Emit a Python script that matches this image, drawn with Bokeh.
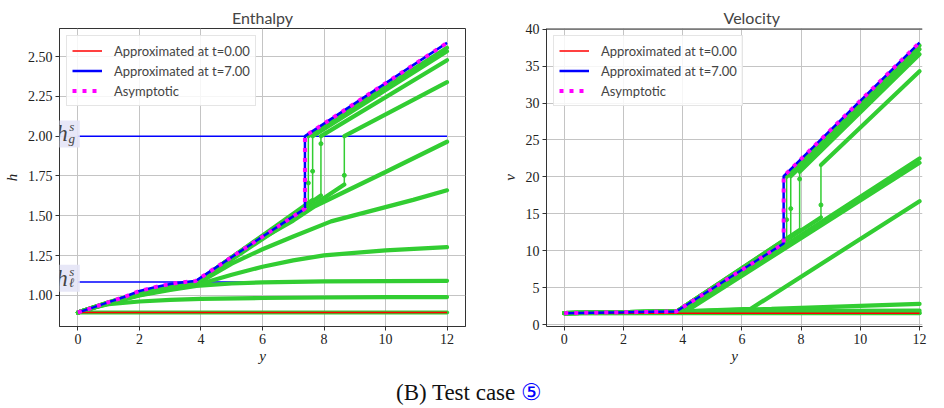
from bokeh.plotting import figure
from bokeh.models import Label, FixedTicker, PrintfTickFormatter, Span, Div, Range1d
from bokeh.layouts import column, row
from bokeh.embed import file_html
from bokeh.resources import INLINE

# ---------------- data ----------------
x_ticks = [0, 2, 4, 6, 8, 10, 12]
h_ticks = [1.00, 1.25, 1.50, 1.75, 2.00, 2.25, 2.50]
v_ticks = [0, 5, 10, 15, 20, 25, 30, 35, 40]

h_gs = 2.00
h_ls = 1.085
h_ref_x = [0, 12]

# Enthalpy
h_t0_x = [0, 12]
h_t0_y = [0.893, 0.893]
h_asym_x = [0, 0.5, 1, 1.5, 2, 2.5, 3, 3.5, 3.82, 7.38, 7.38, 12]
h_asym_y = [0.893, 0.925, 0.958, 0.99, 1.028, 1.052, 1.072, 1.085, 1.09, 1.545, 2.0, 2.586]
h_t7_x = [0, 0.5, 1, 1.5, 2, 2.5, 3, 3.5, 3.82, 7.38, 7.38, 12]
h_t7_y = [0.893, 0.925, 0.958, 0.99, 1.028, 1.052, 1.072, 1.085, 1.09, 1.545, 2.0, 2.586]

h_snap_x = [
    [0, 12],
    [0, 0.5, 1, 2, 3, 4, 6, 8, 10, 12],
    [0, 1, 2, 3, 3.85, 5, 6, 8, 10, 12],
    [0, 1, 2, 3, 3.85, 5, 6, 7, 8, 10, 12],
    [0, 1, 2, 3, 3.85, 5, 6, 7, 8.23, 10.9, 12],
    [0, 1, 2, 3, 3.85, 5, 6, 7, 7.7, 10, 12],
    [0, 1, 2, 3, 3.85, 8.66, 8.66, 8.66, 12],
    [0, 1, 2, 3, 3.85, 7.9, 7.9, 7.9, 12],
    [0, 1, 2, 3, 3.85, 7.63, 7.63, 7.63, 12],
    [0, 1, 2, 3, 3.85, 7.49, 7.49, 7.49, 12],
]
h_snap_y = [
    [0.893, 0.893],
    [0.893, 0.925, 0.945, 0.962, 0.972, 0.978, 0.984, 0.987, 0.989, 0.99],
    [0.893, 0.95, 1.0, 1.035, 1.06, 1.075, 1.082, 1.088, 1.09, 1.092],
    [0.893, 0.952, 1.003, 1.04, 1.065, 1.13, 1.18, 1.22, 1.252, 1.283, 1.303],
    [0.893, 0.953, 1.005, 1.043, 1.07, 1.2, 1.29, 1.37, 1.465, 1.60, 1.66],
    [0.893, 0.954, 1.007, 1.046, 1.075, 1.24, 1.36, 1.47, 1.56, 1.775, 1.965],
    [0.893, 0.955, 1.01, 1.05, 1.078, 1.696, 1.754, 2.0, 2.339],
    [0.893, 0.955, 1.012, 1.052, 1.08, 1.627, 1.953, 2.0, 2.477],
    [0.893, 0.956, 1.014, 1.055, 1.082, 1.60, 1.78, 2.0, 2.533],
    [0.893, 0.957, 1.016, 1.058, 1.085, 1.57, 1.706, 2.0, 2.555],
]

# Velocity
v_t0_x = [0, 12]
v_t0_y = [1.54, 1.54]
v_asym_x = [0, 1, 2, 3, 3.78, 7.41, 7.41, 12]
v_asym_y = [1.54, 1.6, 1.65, 1.72, 1.77, 10.98, 20.1, 38.2]
v_t7_x = [0, 1, 2, 3, 3.78, 7.41, 7.41, 12]
v_t7_y = [1.54, 1.6, 1.65, 1.72, 1.77, 10.98, 20.1, 38.2]

v_snap_x = [
    [0, 12],
    [0, 3.8, 12],
    [0, 3.8, 6, 12],
    [0, 3.8, 7, 12],
    [0, 3.8, 6.3, 12],
    [0, 3.8, 4.2, 12],
    [0, 3.8, 4.1, 12],
    [0, 3.8, 8.67, 8.67, 8.67, 12],
    [0, 3.8, 7.95, 7.95, 7.95, 12],
    [0, 3.8, 7.65, 7.65, 7.65, 12],
    [0, 3.8, 7.51, 7.51, 7.51, 12],
]
v_snap_y = [
    [1.54, 1.54],
    [1.54, 1.58, 1.62],
    [1.54, 1.7, 1.8, 1.9],
    [1.54, 1.74, 2.13, 2.8],
    [1.54, 1.76, 2.13, 16.7],
    [1.54, 1.77, 2.0, 21.9],
    [1.54, 1.77, 2.0, 22.5],
    [1.54, 1.77, 14.5, 16.2, 21.6, 34.3],
    [1.54, 1.77, 12.8, 19.7, 20.7, 36.6],
    [1.54, 1.77, 11.9, 15.7, 20.1, 37.3],
    [1.54, 1.77, 11.66, 14.2, 20.0, 37.8],
]

# ---------------- styling helpers ----------------
GREEN = "#32cd32"
SERIF = "Liberation Serif"
SANS = "Lato"


def split_curve(xs, ys):
    thick_x, thick_y, thin_x, thin_y, mx, my = [], [], [], [], [], []
    cx, cy = [xs[0]], [ys[0]]
    for i in range(1, len(xs)):
        if xs[i] == xs[i - 1]:
            if len(cx) > 1:
                thick_x.append(cx)
                thick_y.append(cy)
            thin_x.append([xs[i - 1], xs[i]])
            thin_y.append([ys[i - 1], ys[i]])
            cx, cy = [xs[i]], [ys[i]]
        else:
            cx.append(xs[i])
            cy.append(ys[i])
    if len(cx) > 1:
        thick_x.append(cx)
        thick_y.append(cy)
    for i in range(1, len(xs) - 1):
        if xs[i] == xs[i - 1] and xs[i] == xs[i + 1]:
            mx.append(xs[i])
            my.append(ys[i])
    return thick_x, thick_y, thin_x, thin_y, mx, my


def draw_snapshots(p, all_x, all_y):
    TX, TY, NX, NY, MX, MY = [], [], [], [], [], []
    for xs, ys in zip(all_x, all_y):
        a, b, c, d, e, f = split_curve(xs, ys)
        TX += a; TY += b; NX += c; NY += d; MX += e; MY += f
    p.multi_line(NX, NY, line_color=GREEN, line_width=1.5)
    p.multi_line(TX, TY, line_color=GREEN, line_width=4.2, line_cap="round")
    p.scatter(MX, MY, size=4, color=GREEN)


def style(p, yticks, ylabel, yfmt):
    p.title.text_font = SANS
    p.title.text_font_size = "16px"
    p.title.text_font_style = "normal"
    p.title.standoff = 3
    for ax in (p.xaxis[0], p.yaxis[0]):
        ax.major_label_text_font = SERIF
        ax.major_label_text_font_size = "14px"
        ax.major_label_text_color = "#222222"
        ax.axis_label_text_font = SERIF
        ax.axis_label_text_font_style = "italic"
        ax.axis_label_text_font_size = "15px"
        ax.axis_label_text_color = "#222222"
        ax.major_tick_in = 0
        ax.major_tick_out = 4
        ax.minor_tick_line_color = None
        ax.axis_line_color = "#333333"
        ax.major_tick_line_color = "#333333"
        ax.major_label_standoff = 3
    p.xaxis.axis_label_standoff = 1
    p.yaxis.axis_label_standoff = 5
    p.xaxis.ticker = FixedTicker(ticks=x_ticks)
    p.xaxis.axis_label = "y"
    p.yaxis.ticker = FixedTicker(ticks=yticks)
    p.yaxis.formatter = PrintfTickFormatter(format=yfmt)
    p.yaxis.axis_label = ylabel
    p.grid.grid_line_color = "#c4c4c4"
    p.grid.grid_line_width = 1
    p.xgrid.ticker = FixedTicker(ticks=x_ticks)
    p.ygrid.ticker = FixedTicker(ticks=yticks)
    p.background_fill_color = "white"
    p.border_fill_color = "white"


def add_legend(p):
    lg = p.legend[0]
    lg.location = "top_left"
    lg.label_text_font = SANS
    lg.label_text_font_size = "13px"
    lg.glyph_width = 30
    lg.glyph_height = 19
    lg.label_height = 19
    lg.spacing = 1
    lg.padding = 5
    lg.margin = 7
    lg.label_standoff = 12
    lg.border_line_color = "#cccccc"
    lg.background_fill_alpha = 0.85


DASH = "4 6"

# ---------------- Enthalpy ----------------
p1 = figure(width=470, height=372, x_range=Range1d(-0.6, 12.6), y_range=Range1d(0.805, 2.676),
            output_backend="svg", toolbar_location=None, title="Enthalpy",
            min_border_left=49, min_border_right=5, min_border_top=28, min_border_bottom=46)
p1.outline_line_color = "#333333"
style(p1, h_ticks, "h", "%.2f")
p1.title.align = "center"

p1.line(h_ref_x, [h_gs, h_gs], line_color="blue", line_width=1.5)
p1.line(h_ref_x, [h_ls, h_ls], line_color="blue", line_width=1.5)
draw_snapshots(p1, h_snap_x, h_snap_y)
p1.line(h_t0_x, h_t0_y, line_color="red", line_width=1.5, legend_label="Approximated at t=0.00")
p1.line(h_t7_x, h_t7_y, line_color="blue", line_width=2.5, legend_label="Approximated at t=7.00")
p1.line(h_asym_x, h_asym_y, line_color="magenta", line_width=4, line_dash=DASH,
        legend_label="Asymptotic")
add_legend(p1)

BOX = "#e4e4f6"
for yc, sub, ys, yb in ((2.014, "g", 2.058, 1.985), (1.108, "\u2113", 1.152, 1.082)):
    p1.add_layout(Label(x=-0.80, y=yc, text="h", text_font=SERIF, text_font_style="italic",
                        text_font_size="23px", text_baseline="middle", text_align="left",
                        background_fill_color=BOX, background_fill_alpha=0.9,
                        padding=dict(left=3, right=12, top=1, bottom=1)))
    p1.add_layout(Label(x=-0.20, y=ys, text="s", text_font=SERIF, text_font_style="italic",
                        text_font_size="13px", text_baseline="middle", text_align="center"))
    p1.add_layout(Label(x=-0.20, y=yb, text=sub, text_font=SERIF, text_font_style="italic",
                        text_font_size="13px", text_baseline="middle", text_align="center"))

# ---------------- Velocity ----------------
p2 = figure(width=458, height=372, x_range=Range1d(-0.6, 12.1), y_range=Range1d(-0.27, 40.1),
            output_backend="svg", toolbar_location=None, title="Velocity",
            min_border_left=76, min_border_right=6, min_border_top=28, min_border_bottom=46)
p2.outline_line_color = None
style(p2, v_ticks, "v", "%d")
p2.title.align = "left"
p2.title.offset = 177
p2.add_layout(Span(location=40.1, dimension="width", line_color="#333333", line_width=2))

draw_snapshots(p2, v_snap_x, v_snap_y)
p2.line(v_t0_x, v_t0_y, line_color="red", line_width=1.5, legend_label="Approximated at t=0.00")
p2.line(v_t7_x, v_t7_y, line_color="blue", line_width=2.5, legend_label="Approximated at t=7.00")
p2.line(v_asym_x, v_asym_y, line_color="magenta", line_width=4, line_dash=DASH,
        legend_label="Asymptotic")
add_legend(p2)

caption = Div(text='<div style="font-family: \'Liberation Serif\', serif; font-size: 23px; '
                   'color: #111; text-align: center; width: 916px; padding-left: 12px;">'
                   '(B) Test case <span style="color: blue;">\u2464</span></div>',
              width=928, height=20)

layout = column(row(p1, p2), caption)

with open("out.html", "w") as f:
    f.write(file_html(layout, INLINE))
